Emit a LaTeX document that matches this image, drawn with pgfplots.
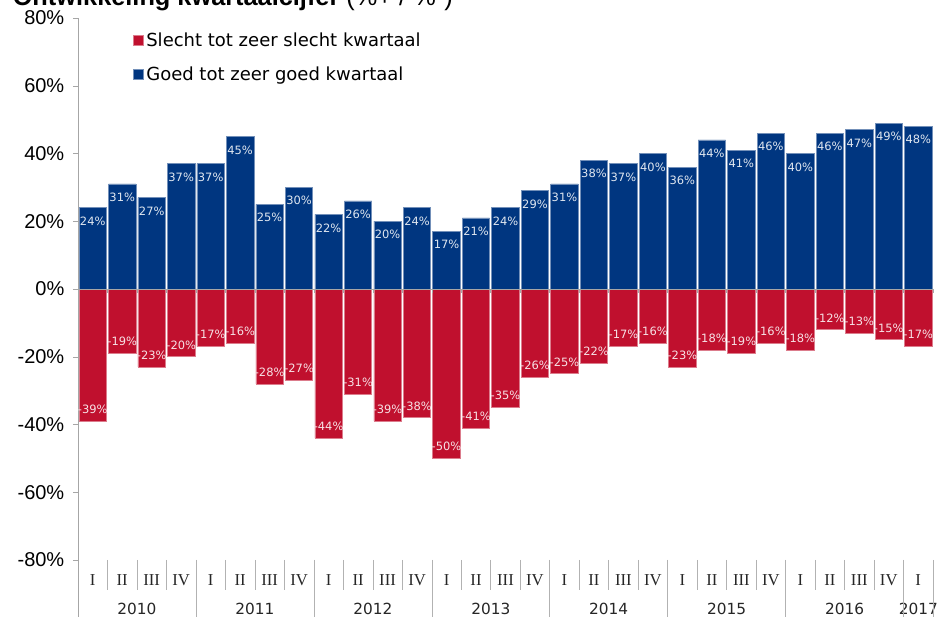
\documentclass[border=0pt]{standalone}
\usepackage{fontspec}
\usepackage{pgfplots}
\pgfplotsset{compat=1.18}
\newfontfamily\arialf{Liberation Sans}
\newfontfamily\verdf{DejaVu Sans}
\newfontfamily\serf{Liberation Serif}
\definecolor{goedblue}{RGB}{0,54,128}
\definecolor{slechtred}{RGB}{192,16,46}

\begin{document}
\begin{tikzpicture}
\begin{axis}[
  at={(58.5pt,42.75pt)}, anchor=south west,
  scale only axis, width=641.25pt, height=406.5pt,
  ymin=-80, ymax=80, xmin=-0.5, xmax=28.5,
  ybar, bar width=0.93, bar shift=0pt,
  axis lines=left, axis line style={-, draw=gray!70},
  x axis line style={draw=none},
  ytick={-80,-60,...,80},
  yticklabel={\pgfmathprintnumber[assume math mode=true]{\tick}\%},
  yticklabel style={font=\arialf\fontsize{15}{18}\selectfont, text=black, xshift=-3pt},
  tick align=outside, major tick length=3.75pt,
  y tick style={draw=gray!70},
  x tick style={draw=none},
  xtick={0,...,28},
  xticklabels={I,II,III,IV,I,II,III,IV,I,II,III,IV,I,II,III,IV,I,II,III,IV,I,II,III,IV,I,II,III,IV,I},
  xticklabel style={font=\serf\fontsize{12.5}{15}\selectfont, text=black!85, anchor=base, yshift=-15.75pt},
  extra x ticks={1.5,5.5,9.5,13.5,17.5,21.5,25.5,28},
  extra x tick labels={2010,2011,2012,2013,2014,2015,2016,2017},
  extra x tick style={xticklabel style={font=\verdf\fontsize{11.5}{14}\selectfont, yshift=-21.75pt}},
  clip=false,
  legend style={at={(0.064,0.978)}, anchor=north west, draw=none, fill=none,
    font=\verdf\fontsize{13.5}{16}\selectfont, row sep=9.5pt, inner sep=0pt},
  legend cell align=left,
  legend image code/.code={\fill[#1] (0pt,-3.75pt) rectangle (7.5pt,3.75pt);},
]

% slecht tot zeer slecht
\addplot[fill=slechtred, draw=slechtred!55!white, line width=0.5pt,
  nodes near coords={\pgfmathprintnumber[assume math mode=true]{\pgfplotspointmeta}\%},
  nodes near coords align={above},
  every node near coord/.append style={font=\verdf\fontsize{8.6}{10}\selectfont, text=white!88!slechtred, yshift=2pt}]
  coordinates {
  (0,-39)(1,-19)(2,-23)(3,-20)
  (4,-17)(5,-16)(6,-28)(7,-27)
  (8,-44)(9,-31)(10,-39)(11,-38)
  (12,-50)(13,-41)(14,-35)(15,-26)
  (16,-25)(17,-22)(18,-17)(19,-16)
  (20,-23)(21,-18)(22,-19)(23,-16)
  (24,-18)(25,-12)(26,-13)(27,-15)
  (28,-17)
  };
\addlegendentry{Slecht tot zeer slecht kwartaal}

% goed tot zeer goed
\addplot[fill=goedblue, draw=goedblue!55!white, line width=0.5pt,
  nodes near coords={\pgfmathprintnumber[assume math mode=true]{\pgfplotspointmeta}\%},
  nodes near coords align={below},
  every node near coord/.append style={font=\verdf\fontsize{8.6}{10}\selectfont, text=white!88!goedblue, yshift=-3.2pt}]
  coordinates {
  (0,24)(1,31)(2,27)(3,37)
  (4,37)(5,45)(6,25)(7,30)
  (8,22)(9,26)(10,20)(11,24)
  (12,17)(13,21)(14,24)(15,29)
  (16,31)(17,38)(18,37)(19,40)
  (20,36)(21,44)(22,41)(23,46)
  (24,40)(25,46)(26,47)(27,49)
  (28,48)
  };
\addlegendentry{Goed tot zeer goed kwartaal}

% nullijn met streepjes
\draw[gray!70] (axis cs:-0.5,0) -- (axis cs:28.5,0);
\pgfplotsinvokeforeach{0.5,1.5,...,28.5}{
  \draw[gray!70] (axis cs:#1,0) -- ([yshift=-3pt]axis cs:#1,0);
}
% scheidingslijnen onder de as
\pgfplotsinvokeforeach{0.5,1.5,...,27.5}{
  \draw[gray!60] (axis cs:#1,-80) -- ([yshift=-22.5pt]axis cs:#1,-80);
}
\pgfplotsinvokeforeach{3.5,7.5,...,27.5}{
  \draw[gray!60] (axis cs:#1,-80) -- ([yshift=-42.75pt]axis cs:#1,-80);
}
\draw[gray!60] (axis cs:28.5,-80) -- ([yshift=-42.75pt]axis cs:28.5,-80);
\draw[gray!70] (axis cs:-0.5,-80) -- ([yshift=-42.75pt]axis cs:-0.5,-80);
\end{axis}

\node[anchor=base east, inner sep=0pt, font=\arialf\fontsize{19}{22}\selectfont]
  at (339.75pt,458.5pt) {\textbf{Ontwikkeling kwartaalcijfer} (\%+ / \%-)};

\pgfresetboundingbox
\useasboundingbox (0,0) rectangle (704.25pt,462.75pt);
\end{tikzpicture}
\end{document}
